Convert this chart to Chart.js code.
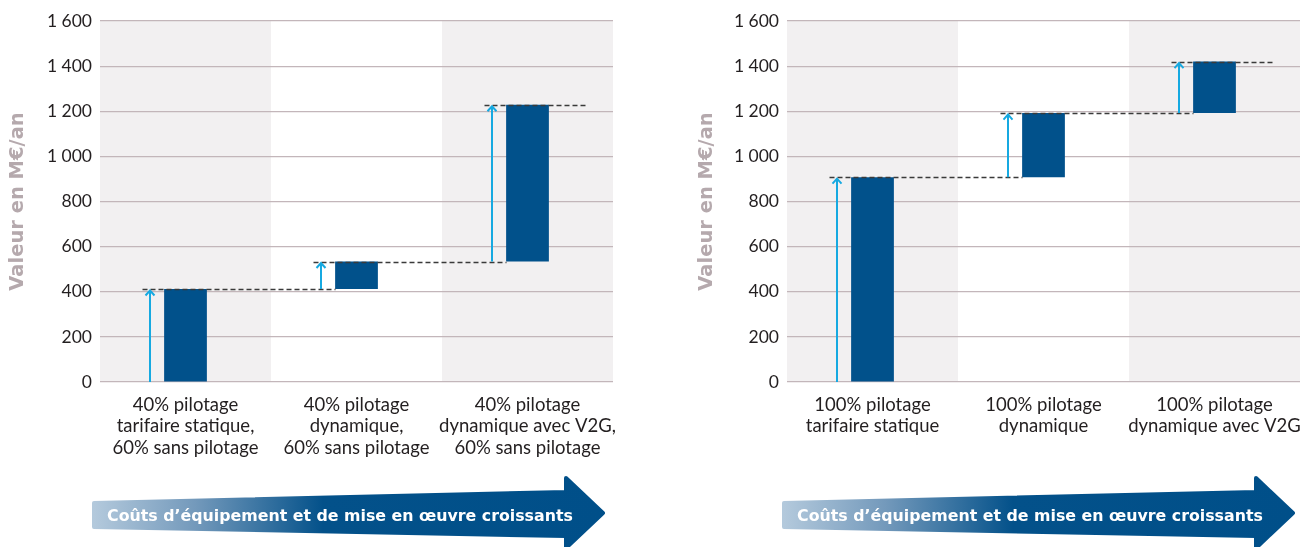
<!DOCTYPE html>
<html><head><meta charset="utf-8">
<script src="https://cdn.jsdelivr.net/npm/chart.js@4.4.0/dist/chart.umd.min.js"></script>
<style>
html,body{margin:0;padding:0;background:#fff;width:1316px;height:547px;overflow:hidden;position:relative}
canvas{position:absolute;top:0}
#c1{left:0}
#c2{left:689px}
svg{position:absolute;left:0;top:0}
</style></head><body>
<canvas id="c1" width="640" height="470"></canvas>
<canvas id="c2" width="627" height="470"></canvas>
<svg width="1316" height="547" viewBox="0 0 1316 547">
  <defs>
    <linearGradient id="g1" x1="0" y1="0" x2="1" y2="0">
      <stop offset="0" stop-color="#b3c9dc"/>
      <stop offset="0.2" stop-color="#7399bb"/>
      <stop offset="0.45" stop-color="#03518a"/>
      <stop offset="1" stop-color="#004f89"/>
    </linearGradient>
  </defs>
  <g id="arrows"></g>
</svg>
<script>
// ---- data ----
const leftCategories = [
  ["40% pilotage", "tarifaire statique,", "60% sans pilotage"],
  ["40% pilotage", "dynamique,", "60% sans pilotage"],
  ["40% pilotage", "dynamique avec V2G,", "60% sans pilotage"]
];
const leftStart = [0, 412, 534];
const leftEnd   = [412, 534, 1229];

const rightCategories = [
  ["100% pilotage", "tarifaire statique"],
  ["100% pilotage", "dynamique"],
  ["100% pilotage", "dynamique avec V2G"]
];
const rightStart = [0, 908, 1192];
const rightEnd   = [908, 1192, 1420];

const yMin = 0, yMax = 1600, yStep = 200;
const axisTitle = "Valeur en M€/an";
const arrowLabel = "Coûts d’équipement et de mise en œuvre croissants";

// ---- styles ----
const BAR = '#01518b';
const BAND = '#f2f0f1';
const GRID = '#c3b6ba';
const CYAN = '#16a9e1';
const TXT = '#231f20';

const fmt = v => String(v).replace(/\B(?=(\d{3})+(?!\d))/g, ' ');

const waterfallPlugin = {
  id: 'waterfall',
  beforeDraw(chart) {
    const {ctx, chartArea: a, scales: {x}} = chart;
    const n = chart.data.labels.length;
    ctx.save();
    ctx.fillStyle = BAND;
    for (let i = 0; i < n; i += 2) {
      const l = i === 0 ? a.left : (x.getPixelForValue(i - 1) + x.getPixelForValue(i)) / 2;
      const r = i === n - 1 ? a.right : (x.getPixelForValue(i) + x.getPixelForValue(i + 1)) / 2;
      ctx.fillRect(l, a.top, r - l, a.bottom - a.top);
    }
    ctx.restore();
  },
  afterDatasetsDraw(chart) {
    const {ctx, scales: {x, y}} = chart;
    const data = chart.data.datasets[0].data;
    const n = data.length;
    ctx.save();
    ctx.strokeStyle = '#3a3a3a';
    ctx.lineWidth = 1.3;
    ctx.setLineDash([5, 3]);
    for (let i = 0; i < n; i++) {
      const yy = Math.round(y.getPixelForValue(data[i][1])) + 0.5;
      const x0 = x.getPixelForValue(i) - 43;
      const x1 = i < n - 1 ? x.getPixelForValue(i + 1) - 21 : x.getPixelForValue(i) + 59;
      ctx.beginPath(); ctx.moveTo(x0, yy); ctx.lineTo(x1, yy); ctx.stroke();
    }
    ctx.setLineDash([]);
    ctx.strokeStyle = CYAN;
    ctx.lineWidth = 2;
    for (let i = 0; i < n; i++) {
      const ax = Math.round(x.getPixelForValue(i) - 36);
      const yb = y.getPixelForValue(data[i][0]);
      const yt = y.getPixelForValue(data[i][1]) + 1.5;
      ctx.beginPath(); ctx.moveTo(ax, yb); ctx.lineTo(ax, yt); ctx.stroke();
      ctx.beginPath();
      ctx.moveTo(ax - 4.5, yt + 5); ctx.lineTo(ax, yt); ctx.lineTo(ax + 4.5, yt + 5);
      ctx.stroke();
    }
    ctx.restore();
  }
};

function makeChart(id, cats, start, end, yAxisWidth, padRight) {
  return new Chart(document.getElementById(id), {
    type: 'bar',
    data: {
      labels: cats,
      datasets: [{
        data: start.map((s, i) => [s, end[i]]),
        backgroundColor: BAR,
        borderWidth: 0,
        categoryPercentage: 1,
        barPercentage: 0.25
      }]
    },
    options: {
      responsive: false,
      animation: false,
      layout: {padding: {top: 21, right: padRight, bottom: 0, left: 0}},
      plugins: {legend: {display: false}, tooltip: {enabled: false}},
      scales: {
        x: {
          grid: {display: false, drawTicks: false},
          border: {display: false},
          ticks: {color: TXT, font: {family: 'Lato', size: 18.5, lineHeight: 1.165}, padding: 12, maxRotation: 0, autoSkip: false},
          afterFit(s) { s.height = 88; }
        },
        y: {
          min: yMin, max: yMax,
          grid: {color: GRID, lineWidth: 1.2, drawTicks: false},
          border: {display: false},
          ticks: {stepSize: yStep, color: TXT, font: {family: 'Lato', size: 17.5}, padding: 8, callback: v => fmt(v)},
          title: {display: true, text: axisTitle, color: '#b5a9ad', font: {family: 'DejaVu Sans', weight: 'bold', size: 19.5, lineHeight: 1.1}, padding: {top: 7, bottom: 0}},
          afterFit(s) { s.width = yAxisWidth; }
        }
      }
    },
    plugins: [waterfallPlugin]
  });
}

makeChart('c1', leftCategories, leftStart, leftEnd, 100, 27);
makeChart('c2', rightCategories, rightStart, rightEnd, 98, 16);

const g = document.getElementById('arrows');
[0, 690].forEach(dx => {
  const pts = [[94,503],[566,492],[566,478],[603,513],[566,548],[566,536],[94,527]]
    .map(p => (p[0] + dx) + ',' + p[1]).join(' ');
  const poly = document.createElementNS('http://www.w3.org/2000/svg', 'polygon');
  poly.setAttribute('points', pts);
  poly.setAttribute('fill', 'url(#g1)');
  poly.setAttribute('stroke', 'url(#g1)');
  poly.setAttribute('stroke-width', '4');
  poly.setAttribute('stroke-linejoin', 'round');
  g.appendChild(poly);
  const t = document.createElementNS('http://www.w3.org/2000/svg', 'text');
  t.setAttribute('x', 340 + dx);
  t.setAttribute('y', 521);
  t.setAttribute('text-anchor', 'middle');
  t.setAttribute('fill', '#ffffff');
  t.setAttribute('font-family', 'DejaVu Sans');
  t.setAttribute('font-weight', 'bold');
  t.setAttribute('font-size', '15.8');
  t.textContent = arrowLabel;
  g.appendChild(t);
});
</script>
</body></html>
